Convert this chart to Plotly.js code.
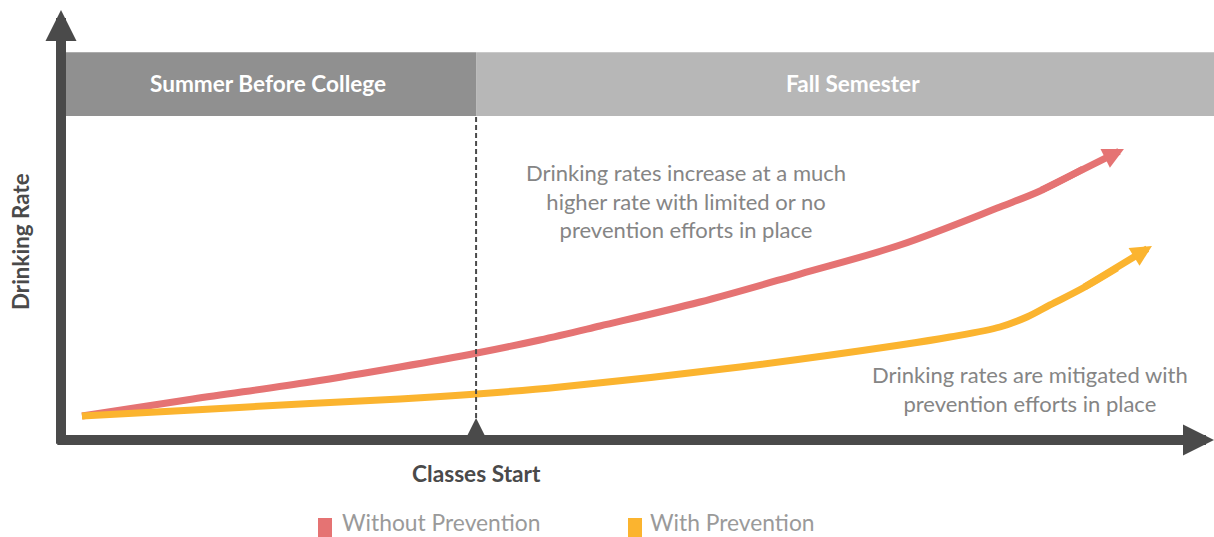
<!DOCTYPE html>
<html><head><meta charset="utf-8">
<script src="https://cdn.plot.ly/plotly-3.0.1.min.js"></script>
<style>html,body{margin:0;padding:0;background:#fff;overflow:hidden}#chart{width:1214px;height:537px}</style>
</head><body><div id="chart"></div>
<script>
// ---------------- data ----------------
const seriesNames = ['Without Prevention', 'With Prevention'];
const withoutX = [1.82, 11.45, 21.6, 29.4, 36.08, 41.54, 46.75, 55.42, 64.09, 72.77, 81.44, 84.91, 88.64, 92.19];
const withoutY = [5.58, 9.53, 13.49, 16.98, 20.23, 23.26, 26.51, 32.09, 38.6, 45.35, 54.19, 57.91, 63.02, 67.67];
const withX = [1.82, 11.45, 21.6, 29.4, 36.08, 43.28, 58.89, 72.77, 77.1, 81.44, 83.78, 85.78, 88.64, 91.59, 94.62];
const withY = [5.58, 6.98, 8.49, 9.53, 10.7, 12.33, 16.98, 22.09, 23.95, 26.28, 28.6, 31.4, 35.35, 40.0, 45.12];
const phaseNames = ['Summer Before College', 'Fall Semester'];
const phaseStart = [0, 36];
const phaseEnd = [36, 100];
const classesStart = 36;
const classesStartLabel = 'Classes Start';
const yAxisLabel = 'Drinking Rate';
const noteTexts = [
  'Drinking rates increase at a much<br>higher rate with limited or no<br>prevention efforts in place',
  'Drinking rates are mitigated with<br>prevention efforts in place'
];

// ---------------- styles ----------------
const seriesColors = ['#E57373', '#FBB42F'];
const phaseColors = ['#909090', '#B7B7B7'];
const axisColor = '#4A4A4A';
const FONT = 'Lato, "Open Sans", sans-serif';
const W = 1214, H = 537, ML = 61, MT = 10, MB = 97;
const plotW = W - ML, plotH = H - MT - MB;
const pxX = px => (px - ML) / plotW;          // paper x from pixel
const pxY = py => (H - MB - py) / plotH;       // paper y from pixel

const seriesX = [withoutX, withX];
const seriesY = [withoutY, withY];

const traces = seriesNames.map((name, i) => ({
  type: 'scatter', mode: 'lines', name: name,
  x: seriesX[i].slice(0, -1), y: seriesY[i].slice(0, -1),
  line: {color: seriesColors[i], width: 7, shape: 'spline', smoothing: 1},
  hoverinfo: 'skip', showlegend: false
}));

const annotations = [];
const shapes = [];

// curve arrow heads (arrow shaft overlaps the last drawn segment)
seriesNames.forEach((name, i) => {
  const xs = seriesX[i], ys = seriesY[i], n = xs.length;
  annotations.push({
    x: xs[n - 1], y: ys[n - 1], ax: xs[n - 3], ay: ys[n - 3],
    xref: 'x', yref: 'y', axref: 'x', ayref: 'y', text: '',
    showarrow: true, arrowhead: 2, arrowsize: 0.6, arrowwidth: 7,
    arrowcolor: seriesColors[i], standoff: 0
  });
});

// axes with arrows
annotations.push({x: 100, y: 0, ax: -0.45, ay: 0, xref: 'x', yref: 'y', axref: 'x', ayref: 'y',
  text: '', showarrow: true, arrowhead: 2, arrowsize: 0.62, arrowwidth: 10, arrowcolor: axisColor, standoff: 0});
annotations.push({x: 0, y: 100, ax: 0, ay: -1.2, xref: 'x', yref: 'y', axref: 'x', ayref: 'y',
  text: '', showarrow: true, arrowhead: 2, arrowsize: 0.62, arrowwidth: 10, arrowcolor: axisColor, standoff: 0});

// phase bands
const bandBottom = 75.35, bandTop = 90.2;
phaseNames.forEach((p, i) => {
  shapes.push({type: 'rect', xref: 'x', yref: 'y', x0: phaseStart[i], x1: phaseEnd[i],
    y0: bandBottom, y1: bandTop, fillcolor: phaseColors[i], line: {width: 0}, layer: 'below'});
});
const phaseLabelX = [17.95, 68.69];
phaseNames.forEach((p, i) => {
  annotations.push({x: phaseLabelX[i], y: (bandTop + bandBottom) / 2 + 0.2, xref: 'x', yref: 'y',
    xanchor: 'center', yanchor: 'middle', text: '<b>' + p + '</b>',
    showarrow: false, font: {family: FONT, size: 22.6, color: '#ffffff'}});
});

// classes start marker
shapes.push({type: 'line', xref: 'x', yref: 'y', x0: classesStart, x1: classesStart, y0: 5.1, y1: bandBottom,
  line: {color: axisColor, width: 2, dash: '5px,3px'}});
annotations.push({x: classesStart, y: 5.1, xref: 'x', yref: 'y', ax: 0, ay: 16, text: '',
  showarrow: true, arrowhead: 2, arrowsize: 1.7, arrowwidth: 2, arrowcolor: axisColor, standoff: 0});
annotations.push({x: classesStart, y: pxY(473), xref: 'x', yref: 'paper', xanchor: 'center', yanchor: 'middle',
  text: '<b>' + classesStartLabel + '</b>',
  showarrow: false, font: {family: FONT, size: 22.7, color: axisColor}});

// y axis label
annotations.push({x: pxX(21), y: pxY(242), xref: 'paper', yref: 'paper', xanchor: 'center', yanchor: 'middle',
  text: '<b>' + yAxisLabel + '</b>',
  textangle: -90, showarrow: false, font: {family: FONT, size: 22.4, color: axisColor}});

// notes
annotations.push({x: 54.2, y: 55.5, xref: 'x', yref: 'y', xanchor: 'center', yanchor: 'middle',
  text: noteTexts[0], align: 'center',
  showarrow: false, font: {family: FONT, size: 22, color: '#858585'}});
annotations.push({x: 84.0, y: 11.9, xref: 'x', yref: 'y', xanchor: 'center', yanchor: 'middle',
  text: noteTexts[1], align: 'center',
  showarrow: false, font: {family: FONT, size: 22, color: '#858585'}});

// legend
const legendSquareX = [318, 628];
const legendTextX = [341, 649];
seriesNames.forEach((name, i) => {
  shapes.push({type: 'rect', xref: 'paper', yref: 'paper', x0: pxX(legendSquareX[i]), x1: pxX(legendSquareX[i] + 14),
    y0: pxY(537), y1: pxY(518), fillcolor: seriesColors[i], line: {width: 0}});
  annotations.push({x: pxX(legendTextX[i]), y: pxY(537), xref: 'paper', yref: 'paper', xanchor: 'left', yanchor: 'bottom',
    height: 22, valign: 'bottom', borderpad: 0,
    text: name, showarrow: false, font: {family: FONT, size: 22.8, color: '#9A9A9A'}});
});

const layout = {
  width: W, height: H,
  margin: {l: ML, r: 0, t: MT, b: MB, pad: 0},
  paper_bgcolor: '#ffffff', plot_bgcolor: '#ffffff',
  xaxis: {range: [0, 100], visible: false, fixedrange: true},
  yaxis: {range: [0, 100], visible: false, fixedrange: true},
  showlegend: false, hovermode: false,
  shapes: shapes, annotations: annotations
};

Plotly.newPlot('chart', traces, layout, {staticPlot: true, displayModeBar: false});
</script>
</body></html>
